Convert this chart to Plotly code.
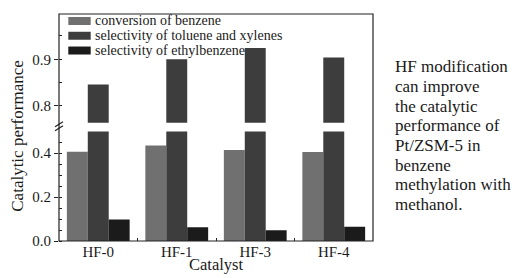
import plotly.graph_objects as go

catalysts = ["HF-0", "HF-1", "HF-3", "HF-4"]
series_names = ["conversion of benzene", "selectivity of toluene and xylenes", "selectivity of ethylbenzene"]
conversion = [0.406, 0.435, 0.415, 0.405]
selectivity_tx = [0.846, 0.900, 0.924, 0.904]
selectivity_eb = [0.098, 0.063, 0.049, 0.065]
series_values = [conversion, selectivity_tx, selectivity_eb]
colors = ["#707070", "#3d3d3d", "#1b1b1b"]
note_lines = ["HF modification", "can improve", "the catalytic", "performance of",
              "Pt/ZSM-5 in", "benzene", "methylation with", "methanol."]

W, H = 512, 278
L, R, T, B = 59, 373, 14, 241.5
FONT = "Liberation Serif"
TXT = "#1a1a1a"

def py(ypix):
    return (B - ypix) / (B - T)

def px(xpix):
    return (xpix - L) / (R - L)

fig = go.Figure()
for name, vals, col in zip(series_names, series_values, colors):
    fig.add_trace(go.Bar(x=catalysts, y=vals, name=name, marker=dict(color=col, line=dict(width=0)),
                         xaxis="x", yaxis="y", showlegend=False))
for name, vals, col in zip(series_names, series_values, colors):
    fig.add_trace(go.Bar(x=catalysts, y=vals, name=name, marker=dict(color=col, line=dict(width=0)),
                         xaxis="x", yaxis="y2", showlegend=False))

tickfont = dict(size=15, family=FONT, color=TXT)
fig.update_layout(
    width=W, height=H,
    margin=dict(l=L, r=W - R, t=T, b=H - B, autoexpand=False),
    paper_bgcolor="white", plot_bgcolor="white",
    barmode="group", bargap=0.2, bargroupgap=0,
    font=dict(family=FONT, size=14, color=TXT),
    showlegend=False,
    xaxis=dict(domain=[0, 1], showgrid=False, showline=False, zeroline=False,
               ticks="inside", tickson="boundaries", ticklen=3, tickcolor="#222",
               tickfont=tickfont, anchor="y"),
    yaxis=dict(domain=[0, py(131.7)], range=[0, 0.499], showgrid=False, zeroline=False,
               showline=False, tickvals=[0.0, 0.2, 0.4], ticktext=["0.0", "0.2", "0.4"],
               ticks="outside", ticklen=4, tickcolor="#222", tickfont=tickfont,
               minor=dict(dtick=0.05, ticks="inside", ticklen=3, tickcolor="#222"),
               anchor="x"),
    yaxis2=dict(domain=[py(123), 1], range=[0.764, 0.997], showgrid=False, zeroline=False,
                showline=False, tickvals=[0.8, 0.9], ticktext=["0.8", "0.9"],
                ticks="outside", ticklen=4, tickcolor="#222", tickfont=tickfont,
                minor=dict(dtick=0.05, ticks="inside", ticklen=3, tickcolor="#222"),
                anchor="x"),
)

shapes = [
    dict(type="rect", xref="paper", yref="paper", x0=0, x1=1, y0=0, y1=1,
         line=dict(color="#222", width=1.2), fillcolor="rgba(0,0,0,0)", layer="above"),
]
for dy in (0, 4):
    shapes.append(dict(type="line", xref="paper", yref="paper",
                       x0=px(55), x1=px(63), y0=py(131 - dy), y1=py(126 - dy),
                       line=dict(color="#222", width=1.2)))

annotations = [
    dict(text="Catalytic performance", xref="paper", yref="paper", x=px(18), y=py(136),
         textangle=-90, showarrow=False, xanchor="center", yanchor="middle",
         font=dict(size=17, family=FONT, color=TXT)),
    dict(text="Catalyst", xref="paper", yref="paper", x=px(216), y=py(265),
         showarrow=False, xanchor="center", yanchor="middle", font=dict(size=16.5, family=FONT, color=TXT)),
]

# legend (drawn manually to match swatch shape)
for i, (name, col) in enumerate(zip(series_names, colors)):
    cy = 21 + 14.8 * i
    shapes.append(dict(type="rect", xref="paper", yref="paper", x0=px(68.3), x1=px(90.7),
                       y0=py(cy + 4), y1=py(cy - 4), fillcolor=col, line=dict(width=0)))
    annotations.append(dict(text=name, xref="paper", yref="paper", x=px(93), y=py(cy),
                            showarrow=False, xanchor="left", yanchor="middle",
                            font=dict(size=14, family=FONT, color=TXT)))

for i, line in enumerate(note_lines):
    annotations.append(dict(text=line, xref="paper", yref="paper", x=px(393), y=py(67 + 19.7 * i),
                            showarrow=False, xanchor="left", yanchor="middle",
                            font=dict(size=17, family=FONT, color=TXT)))
fig.update_layout(shapes=shapes, annotations=annotations)

fig.write_html("out.html", config={"displayModeBar": False},
               post_script="document.body.style.margin='0';")
